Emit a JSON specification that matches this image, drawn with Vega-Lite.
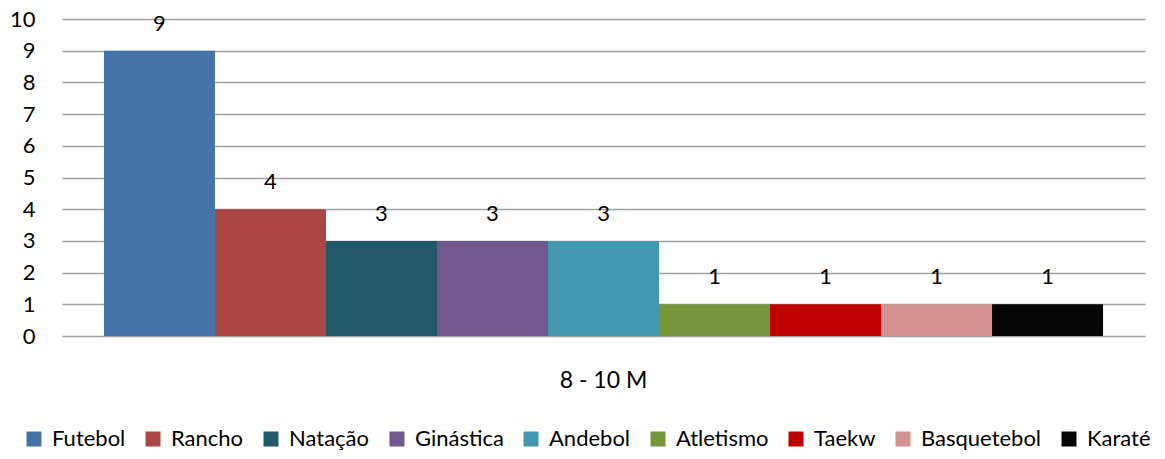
{
  "$schema": "https://vega.github.io/schema/vega-lite/v6.json",
  "autosize": {"type": "none"},
  "width": 1083,
  "height": 317,
  "padding": {"left": 62, "top": 19, "right": 20, "bottom": 123},
  "background": "white",
  "config": {
    "view": {"stroke": null},
    "font": "Lato"
  },
  "data": {
    "values": [
      {"grupo": "8 - 10 M", "modalidade": "Futebol", "valor": 9},
      {"grupo": "8 - 10 M", "modalidade": "Rancho", "valor": 4},
      {"grupo": "8 - 10 M", "modalidade": "Natação", "valor": 3},
      {"grupo": "8 - 10 M", "modalidade": "Ginástica", "valor": 3},
      {"grupo": "8 - 10 M", "modalidade": "Andebol", "valor": 3},
      {"grupo": "8 - 10 M", "modalidade": "Atletismo", "valor": 1},
      {"grupo": "8 - 10 M", "modalidade": "Taekw", "valor": 1},
      {"grupo": "8 - 10 M", "modalidade": "Basquetebol", "valor": 1},
      {"grupo": "8 - 10 M", "modalidade": "Karaté", "valor": 1}
    ]
  },
  "encoding": {
    "x": {
      "field": "grupo", "type": "nominal",
      "scale": {"paddingInner": 0, "paddingOuter": 0.042},
      "axis": {"title": null, "labelAngle": 0, "ticks": false, "domain": false, "labelPadding": 33, "labelFontSize": 23, "labelColor": "#000000", "labelFont": "Lato"}
    },
    "xOffset": {
      "field": "modalidade", "type": "nominal",
      "sort": ["Futebol", "Rancho", "Natação", "Ginástica", "Andebol", "Atletismo", "Taekw", "Basquetebol", "Karaté"],
      "scale": {"paddingInner": 0, "paddingOuter": 0}
    },
    "y": {
      "field": "valor", "type": "quantitative",
      "scale": {"domain": [0, 10]},
      "axis": {"title": null, "values": [0,1,2,3,4,5,6,7,8,9,10], "labelOverlap": false, "ticks": false, "domain": false, "labelPadding": 27, "labelFontSize": 22, "labelColor": "#000000", "gridColor": "#a0a0a0", "gridWidth": 1.5}
    }
  },
  "layer": [
    {
      "mark": {"type": "bar"},
      "encoding": {
        "color": {
          "field": "modalidade", "type": "nominal",
          "sort": ["Futebol", "Rancho", "Natação", "Ginástica", "Andebol", "Atletismo", "Taekw", "Basquetebol", "Karaté"],
          "scale": {
            "domain": ["Futebol", "Rancho", "Natação", "Ginástica", "Andebol", "Atletismo", "Taekw", "Basquetebol", "Karaté"],
            "range": ["#4572A7", "#AA4643", "#215968", "#71588F", "#4198AF", "#77963B", "#C00000", "#D49292", "#050505"]
          },
          "legend": {
            "title": null, "orient": "none", "direction": "horizontal",
            "legendX": -39, "legendY": 409,
            "symbolType": "square", "symbolSize": 225, "symbolStrokeWidth": 0,
            "labelFontSize": 22, "labelColor": "#000000", "labelFont": "Lato",
            "columnPadding": 16, "labelOffset": 7
          }
        }
      }
    },
    {
      "mark": {"type": "text", "dy": -27, "baseline": "middle", "fontSize": 22, "color": "#000000"},
      "encoding": {"text": {"field": "valor", "type": "quantitative"}}
    }
  ]
}
